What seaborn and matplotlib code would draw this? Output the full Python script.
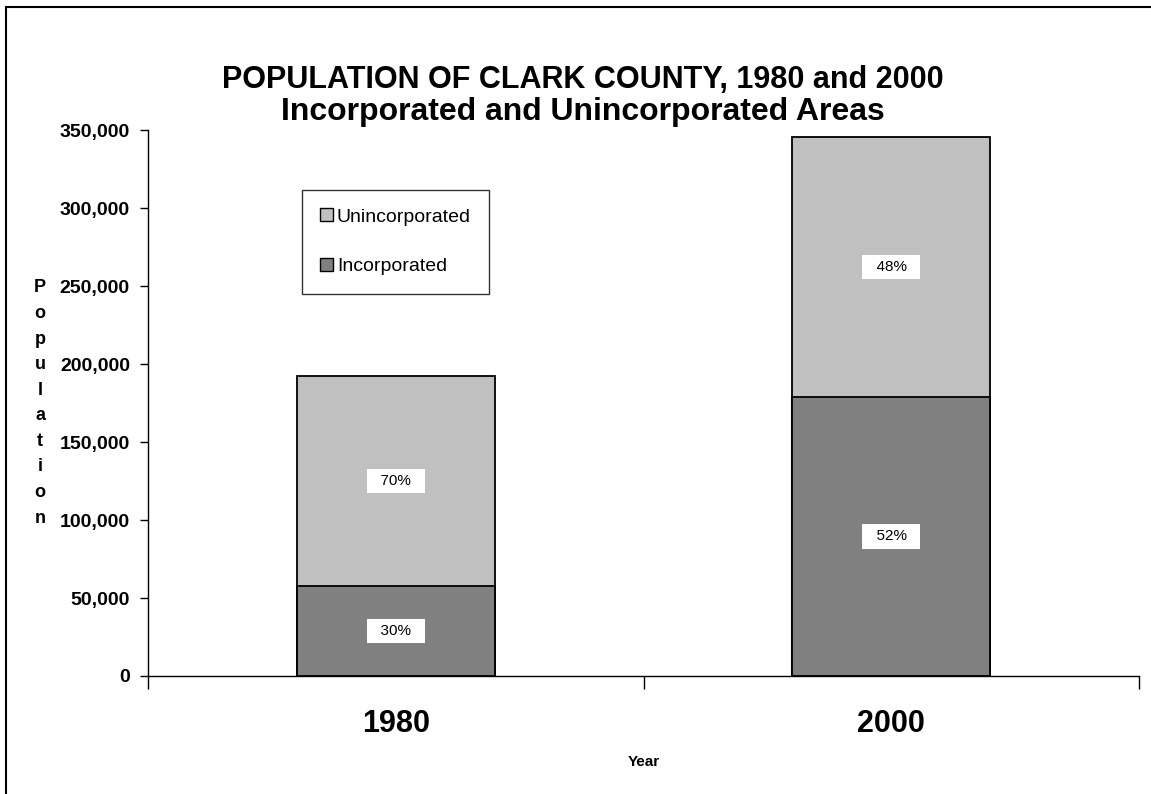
import matplotlib
matplotlib.use('Agg')
import matplotlib.pyplot as plt
from matplotlib.patches import Rectangle, Patch
from matplotlib.ticker import FuncFormatter, FixedLocator
import pandas as pd
import seaborn as sns

years = ['1980', '2000']
incorporated = [57700, 179000]
unincorporated = [134500, 166200]

sns.set_style('white')
plt.rcParams['font.family'] = ['Liberation Sans', 'DejaVu Sans']
for k in ['text.color', 'axes.labelcolor', 'xtick.color', 'ytick.color']:
    plt.rcParams[k] = 'black'

W, H = 1151, 794
fig = plt.figure(figsize=(W / 100, H / 100), dpi=100)
ax = fig.add_axes([148 / W, (H - 676) / H, (1139 - 148) / W, (676 - 130) / H])

totals = [a + b for a, b in zip(incorporated, unincorporated)]
df = pd.DataFrame({'year': years, 'inc': incorporated, 'total': totals})

light = '#c0c0c0'
dark = '#808080'
sns.barplot(data=df, x='year', y='total', color=light, width=0.4,
            edgecolor='black', linewidth=1.3, saturation=1, ax=ax)
sns.barplot(data=df, x='year', y='inc', color=dark, width=0.4,
            edgecolor='black', linewidth=1.3, saturation=1, ax=ax)

# percentage labels in white boxes
for i in range(len(years)):
    pi = round(100 * incorporated[i] / totals[i])
    pu = 100 - pi
    for y, p in [(incorporated[i] / 2, pi), (incorporated[i] + unincorporated[i] / 2, pu)]:
        ax.text(i, y, f'  {p}%  ', ha='center', va='center', fontsize=11,
                bbox=dict(boxstyle='square,pad=0.35', fc='white', ec='none'))

ax.set_xlim(-0.5, 1.5)
ax.set_ylim(0, 350000)
ax.set_yticks(range(0, 350001, 50000))
ax.yaxis.set_major_formatter(FuncFormatter(lambda v, _: f'{v:,.0f}'))
for t in ax.get_yticklabels():
    t.set_fontweight('bold')
    t.set_fontsize(14)
ax.tick_params(axis='y', direction='out', length=6, width=1, left=True, pad=7)

# ticks between categories, labels at centers
ax.xaxis.set_major_locator(FixedLocator([-0.5, 0.5, 1.5]))
ax.xaxis.set_minor_locator(FixedLocator([0, 1]))
ax.xaxis.set_major_formatter(FuncFormatter(lambda v, _: ''))
ax.xaxis.set_minor_formatter(FuncFormatter(lambda v, _: years[int(round(v))]))
ax.tick_params(axis='x', which='major', direction='out', length=9, width=1, bottom=True)
ax.tick_params(axis='x', which='minor', length=0, pad=24, labelsize=22)
for t in ax.xaxis.get_minorticklabels():
    t.set_fontweight('bold')

for s in ['top', 'right']:
    ax.spines[s].set_visible(False)
for s in ['left', 'bottom']:
    ax.spines[s].set_color('black')
    ax.spines[s].set_linewidth(1)

ax.set_xlabel('Year', fontsize=11, fontweight='bold')
ax.xaxis.set_label_coords(0.5, -0.145)
ax.set_ylabel('\n'.join('Population'), rotation=0, fontsize=13, fontweight='bold',
              linespacing=1.66, va='center', ha='center')
ax.yaxis.set_label_coords((40 - 148) / (1139 - 148), 0.5)

handles = [Patch(facecolor=light, edgecolor='black', linewidth=1),
           Patch(facecolor=dark, edgecolor='black', linewidth=1)]
leg = ax.legend(handles, ['Unincorporated', 'Incorporated'], loc='upper left',
                bbox_to_anchor=(302 / W, 1 - 190 / H), bbox_transform=fig.transFigure,
                fontsize=14, frameon=True, fancybox=False, borderaxespad=0,
                handlelength=0.65, handleheight=0.65, handletextpad=0.2,
                labelspacing=1.65, borderpad=0.95)
leg.get_frame().set_edgecolor('black')
leg.get_frame().set_linewidth(1)

fig.text(583 / W, 1 - 80 / H, 'POPULATION OF CLARK COUNTY, 1980 and 2000',
         ha='center', va='center', fontsize=22, fontweight='bold')
fig.text(583 / W, 1 - 112 / H, 'Incorporated and Unincorporated Areas',
         ha='center', va='center', fontsize=23, fontweight='bold')

# outer chart frame (only left and top edges are in view)
fig.patches.append(Rectangle((6 / W, -0.5), 2, 1.5 - 7 / H, transform=fig.transFigure,
                             fill=False, edgecolor='black', linewidth=1.5))

fig.savefig('out.png', dpi=100)
